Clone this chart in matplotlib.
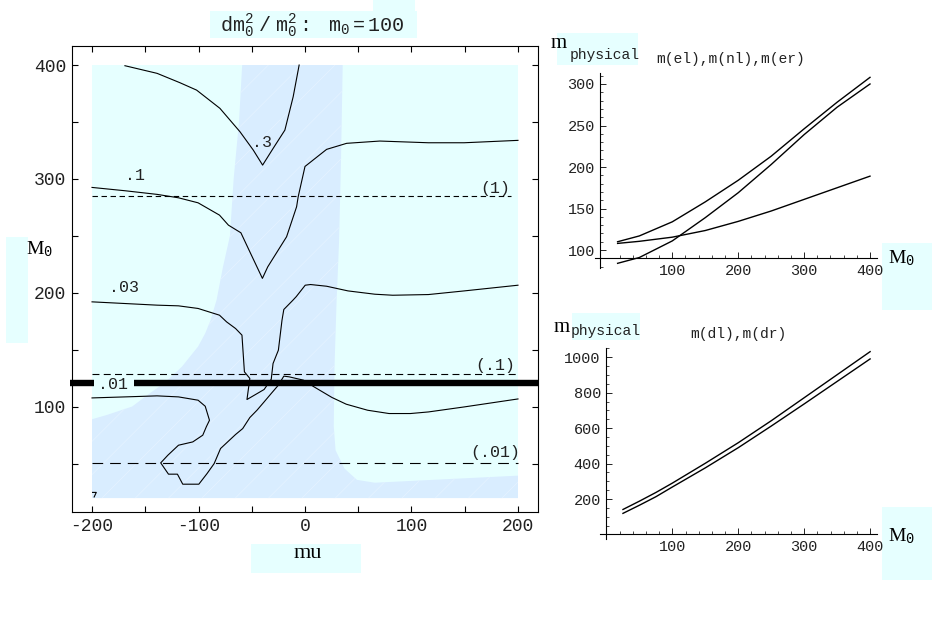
import numpy as np
import matplotlib
matplotlib.use("Agg")
import matplotlib.pyplot as plt
from matplotlib.patches import Rectangle

plt.rcParams['font.family'] = ['Liberation Mono', 'DejaVu Sans']
plt.rcParams['mathtext.fontset'] = 'custom'
plt.rcParams['mathtext.rm'] = 'Liberation Serif'
plt.rcParams['mathtext.tt'] = 'Liberation Mono'
plt.rcParams['mathtext.it'] = 'Liberation Serif:italic'
plt.rcParams['lines.scale_dashes'] = False
plt.rcParams['hatch.linewidth'] = 0.6
plt.rcParams['axes.unicode_minus'] = False

# ---- main contour plot: dm0^2/m0^2 in the (mu, M0) plane ----
region_bottom = 20
blue_mu = [-59, -62, -67, -70.5, -77, -83, -88.7, -93.7, -100.4, -115.5, -132.3, -145.7,
           -162.4, -185.9, -200, -200, 200, 200, 65.5, 48.8, 37, 28.7, 27, 27.7, 29.7,
           30.3, 32, 33.7, 35.4]
blue_M0 = [400, 350, 300, 250, 223, 194, 176, 164.6, 153, 135.4, 120.8, 112,
           100.3, 93, 89.2, 20, 20, 39.7, 33.5, 36, 46, 62, 83, 135, 194,
           206, 246, 311, 400]

c3_mu = [-169.1, -138.9, -117.5, -101.8, -79.9, -61.1, -48.6, -39.8, -29.9, -18.9, -11.1, -5.5]
c3_M0 = [399.4, 392.7, 384.5, 378, 362, 341.5, 325.4, 312.2, 326.9, 342.9, 372.2, 400]

c1_mu = [-200, -169.1, -138.9, -118.8, -100.4, -80.3, -71.9, -60.2, -51.8, -40, -35, -17.3,
         -7.9, -6.4, 0, 20.3, 39.1, 70.3, 115.9, 149.5, 200]
c1_M0 = [292.6, 289.7, 286.5, 283.5, 279.1, 268.3, 259.5, 252.8, 236.1, 212.8, 222.9, 249.3,
         275.6, 284.4, 311, 326, 331.3, 333.3, 331.8, 331.8, 333.9]

c03_mu = [-200, -138.9, -118.8, -100.4, -80.3, -73.6, -65.2, -59.2, -56.9, -51.8, -54.5,
          -38.4, -31.7, -30, -25, -21.6, -19.9, -11.6, -8.2, 0.2, 5.2, 20.3, 40.4, 65.6,
          82.4, 115.9, 149.5, 200]
c03_M0 = [192.2, 189.3, 188.7, 186.4, 180.5, 174.6, 168.8, 163, 130.8, 125, 106.5,
          115.3, 124.3, 138.1, 149.8, 176.1, 185.5, 193.4, 196.8, 206.8, 207.4, 205.9, 201.8, 198.9,
          198, 198.6, 201.8, 206.8]

c01_mu = [-200, -169.1, -138.9, -118.8, -100.4, -93.7, -89.7, -92.7, -96, -105.4, -118.8,
          -128.8, -135.5, -128.2, -119.8, -114.8, -99.7, -92, -85.3, -79.3, -65.2, -58.5,
          -51.8, -45.1, -38.4, -31.7, -25, -19.9, -14.9, -1.5, 8.5, 25.3, 38.7, 58.8, 78.9,
          99, 115.9, 149.5, 200]
c01_M0 = [107.9, 108.8, 109.7, 108.8, 105.9, 100.6, 88.3, 82.5, 75.2, 69.3, 66.4,
          57.6, 50.9, 41, 41, 32.2, 32.2, 41.5, 50.3, 63.5, 75.8, 81,
          90.7, 97.1, 104.4, 111.8, 119.1, 127, 126.4, 123.5, 117.6, 108.3, 102.4, 97.1, 94.2,
          94.2, 95.6, 100, 107]

corner_mu = [-199.5, -196, -198]
corner_M0 = [25, 25, 21]

dash_levels = [285.3, 129, 51.2]
dash_ends = [193, 200, 200]
dash_names = ['(1)', '(.1)', '(.01)']
thick_M0 = 121

labels = ['.3', '.1', '.03', '.01']
label_mu = [-40, -159.8, -170.2, -180]
label_M0 = [332, 302.8, 204.8, 119.5]

# ---- right panels ----
p1_M0 = [17, 50, 100, 150, 200, 250, 300, 350, 400]
m_el = [110, 117, 134, 158, 184, 213, 246, 278, 308]
m_nl = [84, 91, 111, 139, 169, 203, 239, 272, 300]
m_er = [108, 110.5, 115.5, 123.5, 134.5, 147, 161, 175, 189]

p2_M0 = [25, 50, 75, 100, 150, 200, 250, 300, 350, 400]
m_dl = [141, 188, 237, 290, 402, 518, 642, 772, 902, 1032]
m_dr = [119, 165, 213, 268, 376, 490, 612, 737, 864, 991]

W, H = 932, 618
CYAN = '#E6FFFF'
BLUE = '#D9EDFF'


def fx(x):
    return x / W


def fy(y):
    return 1 - y / H


fig = plt.figure(figsize=(W / 100, H / 100), dpi=100)


def box(x0, y0, x1, y1):
    fig.add_artist(Rectangle((fx(x0), fy(y1)), fx(x1) - fx(x0), fy(y0) - fy(y1),
                             transform=fig.transFigure, facecolor=CYAN, edgecolor='none', zorder=0))


# main axes
ax = fig.add_axes([fx(72), fy(512), fx(538) - fx(72), fy(46) - fy(512)])
ax.set_xlim(-218.8, 218.8)
ax.set_ylim(7.8, 416.7)
ax.add_patch(Rectangle((-200, region_bottom), 400, 400 - region_bottom, facecolor=CYAN,
                       edgecolor='none', zorder=0))
ax.fill(blue_mu, blue_M0, facecolor=BLUE, edgecolor='none', zorder=0.5)
ax.fill(blue_mu, blue_M0, facecolor='none', edgecolor='#E4F2FF', hatch='/', linewidth=0, zorder=0.6)

for xs, ys in [(c3_mu, c3_M0), (c1_mu, c1_M0), (c03_mu, c03_M0), (c01_mu, c01_M0),
               (corner_mu, corner_M0)]:
    ax.plot(xs, ys, color='k', lw=0.8)

dash_styles = [(3.9, 2.6), (5, 3.1), (7.7, 5)]
label_y = [291.7, 136.6, 59.6]
for lev, end, name, ds, ly in zip(dash_levels, dash_ends, dash_names, dash_styles, label_y):
    ax.plot([-200, end], [lev, lev], color='k', lw=0.8, dashes=ds)
    ax.text(179, ly, name, fontsize=12, ha='center', va='center', color='#222222')

ax.plot([-220.5, -198.6], [thick_M0, thick_M0], color='k', lw=4.6, solid_capstyle='butt', clip_on=False)
ax.plot([-160.7, 218.8], [thick_M0, thick_M0], color='k', lw=4.6, solid_capstyle='butt', clip_on=False)

for t, x, y in zip(labels, label_mu, label_M0):
    ax.text(x, y, t, fontsize=12, ha='center', va='center', color='#222222')

ax.set_xticks([-200, -100, 0, 100, 200])
ax.set_xticks([-150, -50, 50, 150], minor=True)
ax.set_yticks([100, 200, 300, 400])
ax.set_yticks([50, 150, 250, 350], minor=True)
ax.tick_params(which='both', direction='in', length=4, width=0.8, top=True, right=True,
               labelsize=13, pad=4, labelcolor='#222222')
for s in ax.spines.values():
    s.set_linewidth(0.8)

box(210, 11, 417, 38)
box(373, 0, 415, 12)
fig.text(fx(312), fy(31),
         r'$\mathtt{dm}_{\mathtt{0}}^{\mathtt{2}}\mathtt{\ /\ m}_{\mathtt{0}}^{\mathtt{2}}'
         r'\mathtt{:\ \ \ m}_{\mathtt{0}}\mathtt{=100}$',
         fontsize=14.5, ha='center', va='baseline', color='#222222')
box(6, 237, 28, 343)
fig.text(fx(26), fy(254), r'$\mathrm{M}_{\mathtt{0}}$', fontsize=14, ha='left', va='baseline')
box(251, 544, 361, 573)
fig.text(fx(308), fy(558), 'mu', family='Liberation Serif', fontsize=16, ha='center', va='baseline')


def panel(rect, xlim, ylim, x0, y0, xs, curves, xmaj, xmin, ymaj, ymin):
    a = fig.add_axes(rect)
    a.set_facecolor('none')
    a.set_xlim(*xlim)
    a.set_ylim(*ylim)
    for c in curves:
        a.plot(xs, c, color='k', lw=1.0)
    a.spines['top'].set_visible(False)
    a.spines['right'].set_visible(False)
    a.spines['left'].set_position(('data', x0))
    a.spines['bottom'].set_position(('data', y0))
    for s in ('left', 'bottom'):
        a.spines[s].set_linewidth(0.8)
    a.set_xticks(xmaj)
    a.set_xticks(xmin, minor=True)
    a.set_yticks(ymaj)
    a.set_yticks(ymin, minor=True)
    a.tick_params(which='major', direction='in', length=4, width=0.6, labelsize=11, pad=4,
                  labelcolor='#222222')
    a.tick_params(which='minor', direction='in', length=2, width=0.5)
    return a


panel([fx(595.2), fy(268.3), fx(876.6) - fx(595.2), fy(73.2) - fy(268.3)],
      (-17, 410), (78, 313), -9, 90, p1_M0, [m_el, m_nl, m_er],
      [100, 200, 300, 400], [v for v in range(20, 401, 20) if v % 100],
      [100, 150, 200, 250, 300], [v for v in range(80, 311, 10) if v % 50])

panel([fx(599.9), fy(539.4), fx(876.7) - fx(599.9), fy(348.3) - fy(539.4)],
      (-10, 410), (-28, 1051), 0, 0, p2_M0, [m_dl, m_dr],
      [100, 200, 300, 400], [v for v in range(20, 401, 20) if v % 100],
      [200, 400, 600, 800, 1000], [v for v in range(50, 1051, 50) if v % 200])

box(557, 33, 638, 65)
fig.text(fx(551), fy(48), 'm', family='Liberation Serif', fontsize=15, va='baseline')
fig.text(fx(570), fy(59), 'physical', fontsize=10.5, va='baseline', color='#222222')
fig.text(fx(656), fy(63), 'm(el),m(nl),m(er)', fontsize=10.5, va='baseline', color='#222222')
box(882, 243, 932, 310)
fig.text(fx(888), fy(263), r'$\mathrm{M}_{\mathtt{0}}$', fontsize=14, va='baseline')

box(572, 313, 640, 340)
fig.text(fx(554), fy(332), 'm', family='Liberation Serif', fontsize=15, va='baseline')
fig.text(fx(571), fy(335), 'physical', fontsize=10.5, va='baseline', color='#222222')
fig.text(fx(690), fy(338), 'm(dl),m(dr)', fontsize=10.5, va='baseline', color='#222222')
box(882, 507, 932, 580)
fig.text(fx(888), fy(541), r'$\mathrm{M}_{\mathtt{0}}$', fontsize=14, va='baseline')

fig.savefig('out.png', dpi=100)
